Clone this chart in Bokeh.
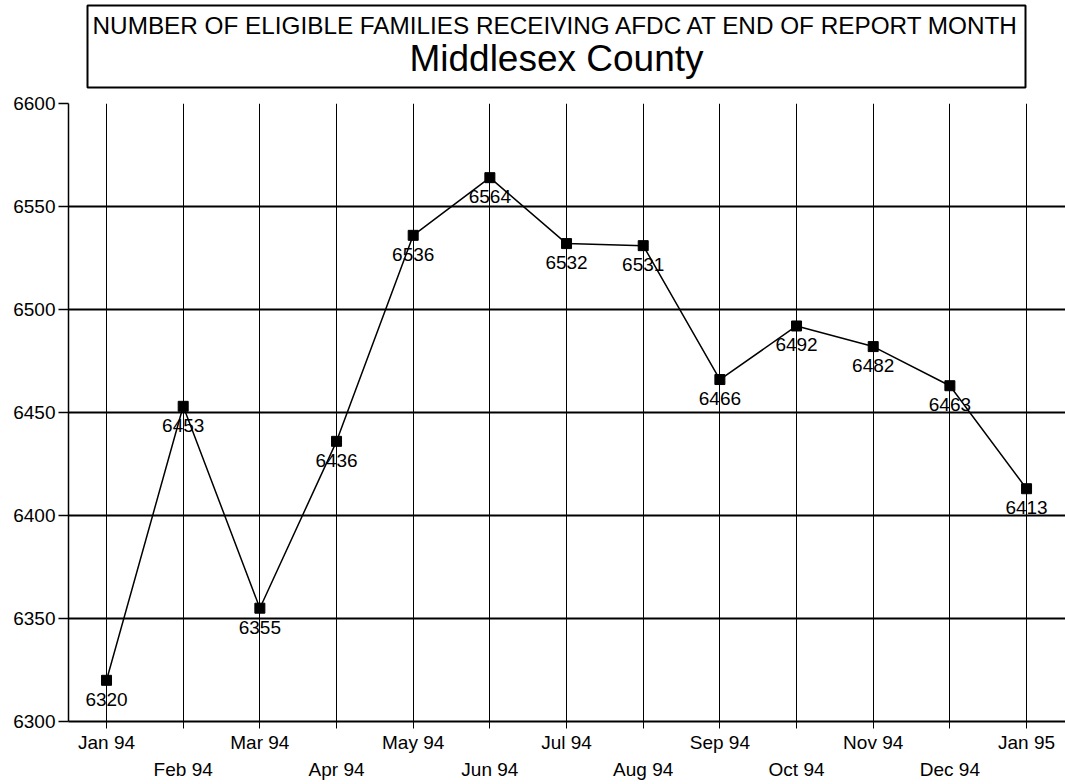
from bokeh.plotting import figure
from bokeh.models import (ColumnDataSource, FixedTicker, LinearAxis, Range1d, Label)
from bokeh.layouts import column
from bokeh.embed import file_html
from bokeh.resources import INLINE
from bokeh.core.properties import value

# ---- data ----
months = ["Jan 94", "Feb 94", "Mar 94", "Apr 94", "May 94", "Jun 94", "Jul 94",
          "Aug 94", "Sep 94", "Oct 94", "Nov 94", "Dec 94", "Jan 95"]
families = [6320, 6453, 6355, 6436, 6536, 6564, 6532, 6531, 6466, 6492, 6482, 6463, 6413]
y_ticks = [6300, 6350, 6400, 6450, 6500, 6550, 6600]
title_line1 = "NUMBER OF ELIGIBLE FAMILIES RECEIVING AFDC AT END OF REPORT MONTH"
title_line2 = "Middlesex County"

FONT = "Liberation Sans"
W = 1065
LEFT = 68
TH = 93           # title strip height
MH = 784 - TH     # main chart height

# ---- title strip (pixel-like coordinates, y downwards) ----
tf = figure(width=W, height=TH, x_range=Range1d(LEFT, W), y_range=Range1d(TH, 0),
            title=None, x_axis_location=None, y_axis_location=None,
            output_backend="svg", toolbar_location=None,
            min_border_left=LEFT, min_border_right=0, min_border_top=0, min_border_bottom=0)
tf.grid.visible = False
tf.outline_line_color = None
tf.background_fill_color = "white"
tf.border_fill_color = "white"
tf.quad(left=[87], right=[1025], top=[5], bottom=[87], fill_color=None,
        line_color="black", line_width=2)
tf.add_layout(Label(x=556, y=25, text=title_line1, text_align="center",
                    text_baseline="middle", text_font=FONT, text_font_size="24.3px",
                    text_color="black"))
tf.add_layout(Label(x=556, y=58, text=title_line2, text_align="center",
                    text_baseline="middle", text_font=FONT, text_font_size="37px",
                    text_color="black"))

# ---- main chart ----
xs = list(range(len(months)))
src = ColumnDataSource(dict(x=xs, y=families, label=[str(v) for v in families]))

p = figure(width=W, height=MH, x_range=Range1d(-0.496, 12.508),
           y_range=Range1d(y_ticks[0], y_ticks[-1]), title=None,
           output_backend="svg", toolbar_location=None,
           min_border_left=LEFT, min_border_right=0, min_border_top=10,
           min_border_bottom=63)
p.outline_line_color = None
p.background_fill_color = "white"
p.border_fill_color = "white"

# grid
p.xgrid.ticker = FixedTicker(ticks=xs)
p.xgrid.grid_line_color = "black"
p.xgrid.grid_line_width = 1
p.ygrid.ticker = FixedTicker(ticks=y_ticks)
p.ygrid.grid_line_color = "black"
p.ygrid.grid_line_width = 2

# y axis
p.yaxis.ticker = FixedTicker(ticks=y_ticks)
p.yaxis.axis_line_color = "black"
p.yaxis.axis_line_width = 1.5
p.yaxis.major_tick_out = 10
p.yaxis.major_tick_in = 0
p.yaxis.major_tick_line_width = 1.5
p.yaxis.minor_tick_line_color = None
p.yaxis.major_label_standoff = 3
p.yaxis.major_label_text_font = FONT
p.yaxis.major_label_text_font_size = "19px"
p.yaxis.major_label_text_color = "black"

# x axis row 1 (Jan, Mar, ...) with ticks for all months
xa = p.xaxis[0]
xa.ticker = FixedTicker(ticks=xs)
xa.major_label_overrides = {i: (months[i] if i % 2 == 0 else "") for i in xs}
xa.axis_line_color = "black"
xa.axis_line_width = 2
xa.major_tick_out = 7
xa.major_tick_in = 0
xa.major_tick_line_width = 1
xa.minor_tick_line_color = None
xa.major_label_standoff = 3
xa.major_label_text_font = FONT
xa.major_label_text_font_size = "19px"
xa.major_label_text_color = "black"

# x axis row 2 (Feb, Apr, ...)
xa2 = LinearAxis(ticker=FixedTicker(ticks=[i for i in xs if i % 2 == 1]))
xa2.major_label_overrides = {i: months[i] for i in xs if i % 2 == 1}
xa2.axis_line_color = None
xa2.major_tick_line_color = None
xa2.minor_tick_line_color = None
xa2.major_tick_out = 0
xa2.major_tick_in = 0
xa2.major_label_standoff = 3
xa2.major_label_text_font = FONT
xa2.major_label_text_font_size = "19px"
xa2.major_label_text_color = "black"
p.add_layout(xa2, "below")

# series
p.line("x", "y", source=src, line_color="black", line_width=1.5)
p.scatter("x", "y", source=src, marker="square", size=10, fill_color="black",
          line_color="black")
p.text("x", "y", text="label", source=src, text_align="center", text_baseline="middle",
       y_offset=19, text_font=value(FONT), text_font_size="19px", text_color="black")

layout = column(tf, p, spacing=0)
open("out.html", "w").write(file_html(layout, INLINE))
